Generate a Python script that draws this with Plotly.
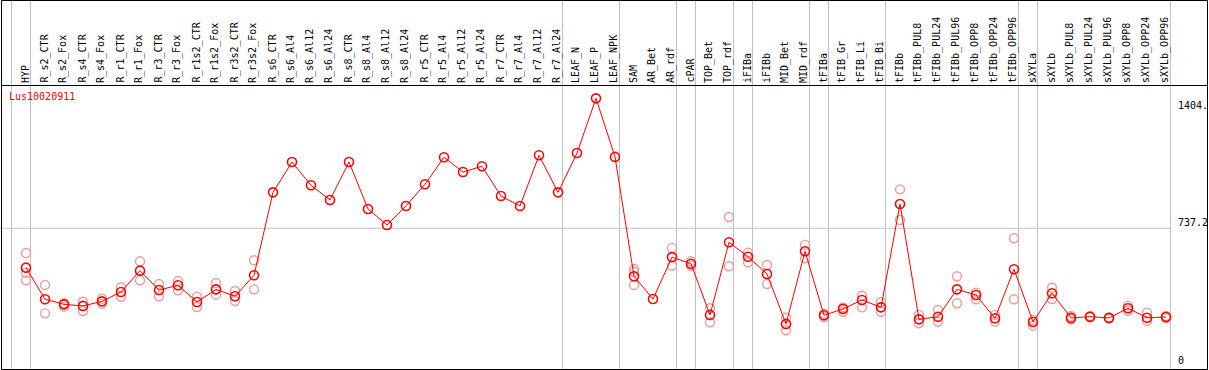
import plotly.graph_objects as go

categories = ["HYP", "R_s2_CTR", "R_s2_Fox", "R_s4_CTR", "R_s4_Fox", "R_r1_CTR", "R_r1_Fox",
              "R_r3_CTR", "R_r3_Fox", "R_r1s2_CTR", "R_r1s2_Fox", "R_r3s2_CTR", "R_r3s2_Fox",
              "R_s6_CTR", "R_s6_Al4", "R_s6_Al12", "R_s6_Al24", "R_s8_CTR", "R_s8_Al4", "R_s8_Al12",
              "R_s8_Al24", "R_r5_CTR", "R_r5_Al4", "R_r5_Al12", "R_r5_Al24", "R_r7_CTR", "R_r7_Al4",
              "R_r7_Al12", "R_r7_Al24", "LEAF_N", "LEAF_P", "LEAF_NPK", "SAM", "AR_Bet", "AR_rdf",
              "cPAR", "TOP_Bet", "TOP_rdf", "iFIBa", "iFIBb", "MID_Bet", "MID_rdf", "tFIBa",
              "tFIB_Gr", "tFIB_Li", "tFIB_Bi", "tFIBb", "tFIBb_PUL8", "tFIBb_PUL24", "tFIBb_PUL96",
              "tFIBb_OPP8", "tFIBb_OPP24", "tFIBb_OPP96", "sXYLa", "sXYLb", "sXYLb_PUL8",
              "sXYLb_PUL24", "sXYLb_PUL96", "sXYLb_OPP8", "sXYLb_OPP24", "sXYLb_OPP96"]

means = [514, 335, 306, 297, 323, 376, 497, 387, 414, 319, 391, 352, 471,
         941, 1113, 981, 898, 1113, 847, 756, 864, 987, 1140, 1056, 1089, 920, 864, 1151, 941,
         1164, 1474, 1142, 465, 336, 574, 536, 246, 658, 576, 478, 195, 607, 244,
         280, 331, 289, 875, 221, 236, 391, 359, 227, 505, 206, 369, 229,
         236, 229, 284, 230, 234]

rep1 = [597, 416, 312, 321, 338, 403, 550, 421, 438, 349, 427, 382, 556,
        None, None, None, None, None, None, None, None, None, None, None, None, None, None, None, None,
        None, None, None, 506, None, 626, 550, 284, 801, 599, 529, 230, 643, 253,
        289, 355, 318, 958, 246, 274, 465, 372, 246, 681, 217, 400, 240,
        240, 232, 297, 259, 240]
rep2 = [442, 255, 293, 268, 310, 349, 442, 352, 386, 291, 361, 325, 391,
        None, None, None, None, None, None, None, None, None, None, None, None, None, None, None, None,
        None, None, None, 416, None, 525, 525, 204, 522, 544, 421, 159, 567, 234,
        264, 289, 264, 784, 199, 208, 312, 335, 208, 335, 185, 336, 221,
        232, 226, 270, 212, 228]
rep3 = [485, None, None, None, None, None, None, None, None, None, None, None, None,
        None, None, None, None, None, None, None, None, None, None, None, None, None, None, None, None,
        None, None, None, 491, None, None, None, None, None, None, None, None, None, None,
        None, None, None, None, None, None, None, None, None, None, None, None, None,
        None, None, None, None, None]

# category after which a grey group separator is drawn ("" = before the first one)
separators_after = ["", "HYP", "R_r7_Al24", "LEAF_NPK", "AR_rdf", "cPAR", "TOP_rdf", "iFIBa",
                    "MID_rdf", "tFIBa", "tFIB_Bi", "tFIBb_OPP96", "sXYLa", "sXYLb_OPP96"]

y_labels = ["1404.", "737.2", "0"]
y_label_values = [1404, 737.2, 0]
title = "Lus10020911"

W, H = 1209, 370
STEP = 19.0
X0 = 26.0
Y_ZERO = 358.3
PX_PER_UNIT = 0.17635

xs = list(range(len(categories)))
x_range = [-X0 / STEP, (W - X0) / STEP]
y_range = [-(H - Y_ZERO) / PX_PER_UNIT, Y_ZERO / PX_PER_UNIT]


def py(px):
    return 1 - px / H


def pxx(px):
    return px / W


fig = go.Figure()

rep_color = "#eb9c9c"
for reps in (rep1, rep2, rep3):
    fig.add_trace(go.Scatter(
        x=xs, y=reps, mode="markers", cliponaxis=False,
        marker=dict(symbol="circle-open", size=9, color=rep_color, line=dict(width=1.4, color=rep_color)),
        hoverinfo="skip"))

fig.add_trace(go.Scatter(
    x=xs, y=means, mode="lines+markers", cliponaxis=False,
    line=dict(color="red", width=1),
    marker=dict(symbol="circle-open", size=9, color="red", line=dict(width=1.6, color="red"))))

shapes = []
for name in separators_after:
    idx = -1 if name == "" else categories.index(name)
    shapes.append(dict(type="line", xref="x", yref="paper", x0=idx + 0.235, x1=idx + 0.235,
                       y0=py(369), y1=py(1), line=dict(color="#c0c0c0", width=1), layer="below"))
last_sep = categories.index("sXYLb_OPP96") + 0.235
shapes.append(dict(type="line", xref="x", yref="y", x0=x_range[0], x1=last_sep,
                   y0=737.2, y1=737.2, line=dict(color="#c0c0c0", width=1), layer="below"))
shapes.append(dict(type="rect", xref="paper", yref="paper", x0=pxx(1.5), x1=pxx(1207.5),
                   y0=py(369.5), y1=py(0.5), line=dict(color="black", width=1)))
shapes.append(dict(type="line", xref="paper", yref="paper", x0=pxx(1.5), x1=pxx(1207.5),
                   y0=py(85.5), y1=py(85.5), line=dict(color="black", width=1)))

annotations = []
font = dict(family="DejaVu Sans Mono", size=10, color="black")
for i, c in enumerate(categories):
    annotations.append(dict(x=i, xref="x", y=py(84), yref="paper", text=c, showarrow=False,
                            textangle=-90, xanchor="center", yanchor="bottom", font=font,
                            borderpad=0, xshift=-1))
annotations.append(dict(x=pxx(8), xref="paper", y=py(96.5), yref="paper", text=title,
                        showarrow=False, xanchor="left", yanchor="middle",
                        font=dict(family="DejaVu Sans Mono", size=10, color="red"), borderpad=0))
for lab, val in zip(y_labels, y_label_values):
    if val == 0:
        annotations.append(dict(x=pxx(1177), xref="paper", y=py(367), yref="paper", text=lab,
                                showarrow=False, xanchor="left", yanchor="bottom", font=font,
                                borderpad=0))
    else:
        annotations.append(dict(x=pxx(1177), xref="paper", y=val, yref="y", text=lab,
                                showarrow=False, xanchor="left", yanchor="bottom", font=font,
                                borderpad=0, yshift=-1))

fig.update_layout(
    width=W, height=H, margin=dict(l=0, r=0, t=0, b=0),
    paper_bgcolor="white", plot_bgcolor="white", showlegend=False,
    xaxis=dict(range=x_range, visible=False, fixedrange=True),
    yaxis=dict(range=y_range, visible=False, fixedrange=True),
    shapes=shapes, annotations=annotations,
)

fig.write_html("out.html", config={"displayModeBar": False},
               post_script="document.body.style.margin='0';document.body.style.overflow='hidden';")
